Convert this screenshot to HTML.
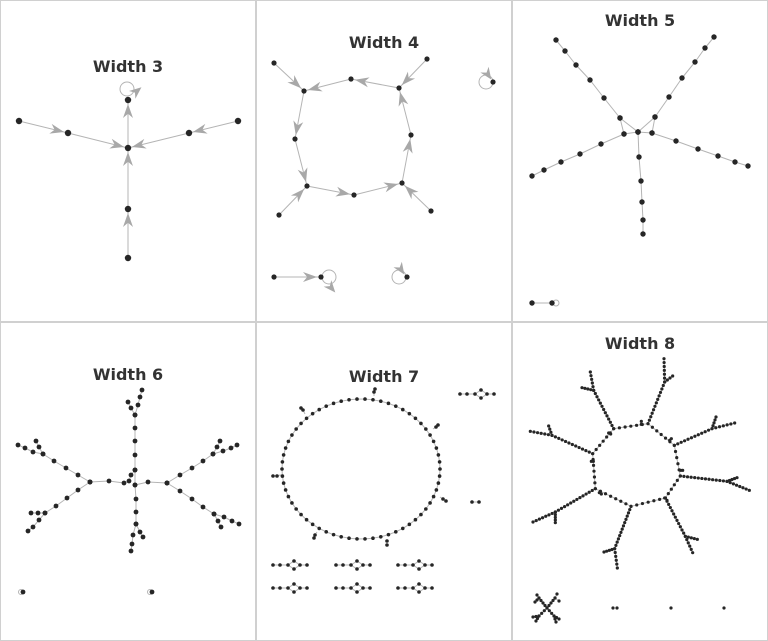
<!DOCTYPE html>
<html><head><meta charset="utf-8"><style>
html,body{margin:0;padding:0;background:#fff;}
svg{display:block;}
text{font-family:"DejaVu Sans","Liberation Sans",sans-serif;font-weight:bold;font-size:16px;fill:#333;text-anchor:middle;}
</style></head><body>
<svg id="s" width="768" height="641" viewBox="0 0 768 641" xmlns="http://www.w3.org/2000/svg">
<rect x="0.5" y="0.5" width="767" height="640" fill="#fff" stroke="#d0d0d0"/>
<line x1="256" y1="0" x2="256" y2="641" stroke="#d0d0d0" stroke-width="2"/>
<line x1="512" y1="0" x2="512" y2="641" stroke="#d0d0d0" stroke-width="2"/>
<line x1="0" y1="322" x2="768" y2="322" stroke="#d0d0d0" stroke-width="2"/>
<text x="128" y="72">Width 3</text>
<text x="384" y="48">Width 4</text>
<text x="640" y="26">Width 5</text>
<text x="128" y="380">Width 6</text>
<text x="384" y="382">Width 7</text>
<text x="640" y="349">Width 8</text>
<g id="e" stroke="#b4b4b4" stroke-width="1" fill="none"></g>
<g id="a" fill="#a8a8a8"></g>
<g id="n" fill="#262626"></g>
</svg>
<script>
var NS="http://www.w3.org/2000/svg";
var E=document.getElementById('e'),A=document.getElementById('a'),N=document.getElementById('n');
function el(p,t,at){var x=document.createElementNS(NS,t);for(var k in at)x.setAttribute(k,at[k]);p.appendChild(x);return x;}
function dot(x,y,r){el(N,'circle',{cx:x,cy:y,r:r});}
function ln(x1,y1,x2,y2){el(E,'line',{x1:x1,y1:y1,x2:x2,y2:y2});}
function arr(x1,y1,x2,y2,off,L,W){off=off||4;L=L||14;W=W||5;var dx=x2-x1,dy=y2-y1,d=Math.hypot(dx,dy);dx/=d;dy/=d;
var tx=x2-dx*off,ty=y2-dy*off,bx=tx-dx*L,by=ty-dy*L,mx=tx-dx*L*0.7,my=ty-dy*L*0.7;
el(A,'polygon',{points:tx+','+ty+' '+(bx-dy*W)+','+(by+dx*W)+' '+mx+','+my+' '+(bx+dy*W)+','+(by-dx*W)});}
function ae(a,b,r,off){ln(a[0],a[1],b[0],b[1]);arr(a[0],a[1],b[0],b[1],off);}
// Panel 3
var P={t:[128,100],c:[128,148],l:[68,133],ll:[19,121],r:[189,133],rr:[238,121],b1:[128,209],b2:[128,258]};
ae(P.ll,P.l);ae(P.l,P.c);ae(P.rr,P.r);ae(P.r,P.c);ae(P.b2,P.b1);ae(P.b1,P.c);ae(P.c,P.t);
el(E,'circle',{cx:127,cy:89,r:7});arr(126,100,143,86,2,12,5);
for(var k in P)dot(P[k][0],P[k][1],3.2);
// Panel 4
var Q=[[274,63],[304,91],[351,79],[399,88],[427,59],[295,139],[411,135],[307,186],[354,195],[402,183],[279,215],[431,211]];
[[0,1],[2,1],[3,2],[4,3],[1,5],[5,7],[10,7],[7,8],[8,9],[11,9],[9,6],[6,3]].forEach(function(p){ae(Q[p[0]],Q[p[1]]);});
Q.forEach(function(p){dot(p[0],p[1],2.6);});
el(E,'circle',{cx:486,cy:82,r:7});arr(482,66,493,82,3,12,5);dot(493,82,2.6);
ae([274,277],[321,277]);dot(274,277,2.6);dot(321,277,2.6);el(E,'circle',{cx:329,cy:277,r:7});arr(322,277,334,291,-2,12,5);
el(E,'circle',{cx:399,cy:277,r:7});arr(396,262,406,277,3,12,5);dot(407,277,2.6);
// Panel 5
function chain(pts,r){for(var i=0;i<pts.length-1;i++)ln(pts[i][0],pts[i][1],pts[i+1][0],pts[i+1][1]);pts.forEach(function(p){dot(p[0],p[1],r);});}
var r5=2.7;
chain([[556,40],[565,51],[576,65],[590,80],[604,98],[620,118],[638,132]],r5);
chain([[714,37],[705,48],[695,62],[682,78],[669,97],[655,117],[638,132]],r5);
chain([[620,118],[624,134],[638,132],[652,133],[655,117]],r5);
chain([[532,176],[544,170],[561,162],[580,154],[601,144],[624,134]],r5);
chain([[748,166],[735,162],[718,156],[698,149],[676,141],[652,133]],r5);
chain([[638,132],[639,157],[641,181],[642,202],[643,220],[643,234]],r5);
chain([[532,303],[552,303]],r5);el(E,'circle',{cx:556,cy:303,r:3});
// Panel 6
var r6=2.4;
chain([[142,390],[140,397],[138,405],[135,415],[135,428],[135,441],[135,455],[135,470],[131,475],[129,481],[124,483],[109,481],[90,482]],r6);
chain([[128,402],[131,408],[135,415]],r6);
chain([[135,470],[135,485],[148,482],[167,483]],r6);
chain([[135,485],[136,499],[136,512],[136,524],[133,535],[132,544],[131,551]],r6);
chain([[136,524],[140,532],[143,537]],r6);
chain([[90,482],[78,475],[66,468],[54,461],[43,454],[33,452],[25,448],[18,445]],r6);
chain([[43,454],[39,447],[36,441]],r6);
chain([[90,482],[78,490],[67,498],[56,506],[45,513],[38,513],[31,513]],r6);
chain([[45,513],[39,520],[33,527],[28,531]],r6);
chain([[167,483],[180,475],[192,468],[203,461],[213,454],[223,451],[231,448],[237,445]],r6);
chain([[213,454],[217,447],[220,441]],r6);
chain([[167,483],[180,491],[192,499],[203,507],[214,514],[224,517],[232,521],[239,524]],r6);
chain([[214,514],[218,521],[221,527]],r6);
el(E,'circle',{cx:21,cy:592,r:2.5});dot(23,592,r6);el(E,'circle',{cx:150,cy:592,r:2.5});dot(152,592,r6);
// sampling helper
function samp(pts,s,r){for(var i=0;i<pts.length-1;i++){var a=pts[i],b=pts[i+1];ln(a[0],a[1],b[0],b[1]);var d=Math.hypot(b[0]-a[0],b[1]-a[1]),n=Math.max(1,Math.round(d/s));for(var j=0;j<n;j++)dot(a[0]+(b[0]-a[0])*j/n,a[1]+(b[1]-a[1])*j/n,r);}var l=pts[pts.length-1];dot(l[0],l[1],r);}
// Panel 7
var r7=1.8,cx=361,cy=469,rx=79,ry=70,m=62,pe=[];
for(var i=0;i<=m;i++){var t=2*Math.PI*i/m;pe.push([cx+rx*Math.cos(t),cy+ry*Math.sin(t)]);}
for(var i=0;i<m;i++)ln(pe[i][0],pe[i][1],pe[i+1][0],pe[i+1][1]);
for(var i=0;i<m;i++)dot(pe[i][0],pe[i][1],r7);
[[374,392,375,389,374,396],[303,410,301,408,305,414],[436,427,438,425,433,429],[273,476,277,476,281,475],[443,499,446,501,440,497],[315,535,314,538,317,532],[387,545,387,541,388,544]].forEach(function(q){ln(q[0],q[1],q[4],q[5]);dot(q[0],q[1],r7);dot(q[2],q[3],r7);});
function small(x0,y){ln(x0,y,x0+15,y);ln(x0+27,y,x0+34,y);el(E,'polygon',{points:(x0+15)+','+y+' '+(x0+21)+','+(y-4)+' '+(x0+27)+','+y+' '+(x0+21)+','+(y+4)});
[[0,0],[7,0],[15,0],[21,-4],[21,4],[27,0],[34,0]].forEach(function(p){dot(x0+p[0],y+p[1],r7);});}
small(273,565);small(336,565);small(398,565);small(273,588);small(336,588);small(398,588);small(460,394);
dot(472,502,r7);dot(479,502,r7);ln(472,502,479,502);
// Panel 8
function Z(x,y){return [512+x/3,322+y/3];}
var r8=1.6,s8=3.6;
var oct=[Z(305,320),Z(408,305),Z(487,370),Z(505,462),Z(460,528),Z(357,553),Z(250,500),Z(242,395)];
samp(oct.concat([oct[0]]),s8*1.6,r8);
var arms=[[Z(305,320),Z(245,205),Z(235,150),Z(210,197)],[Z(408,305),Z(458,180),Z(456,110),Z(482,162)],[Z(487,370),Z(600,320),Z(668,303),Z(612,285)],[Z(505,462),Z(645,478),Z(712,505),Z(675,467)],[Z(460,528),Z(520,643),Z(542,692),Z(556,652)],[Z(357,553),Z(308,680),Z(316,738),Z(276,690)],[Z(250,500),Z(130,570),Z(63,600),Z(130,602)],[Z(242,395),Z(120,340),Z(55,328),Z(110,312)]];
arms.forEach(function(a){samp([a[0],a[1],a[2]],s8,r8);samp([a[1],a[3]],s8*0.8,r8);});
[[Z(290,333),Z(296,336)],[Z(388,298),Z(388,307)],[Z(473,355),Z(478,350)],[Z(506,445),Z(512,445)],[Z(458,528),Z(465,535)],[Z(262,512),Z(268,516)],[Z(238,418),Z(244,418)]].forEach(function(p){dot(p[0][0],p[0][1],r8);dot(p[1][0],p[1][1],r8);});
var sc=[547,608];
[[[-8,-10],[-12,-6],[-10,-13]],[[8,-10],[12,-7],[10,-14]],[[-8,8],[-14,9],[-11,13]],[[7,8],[12,11],[9,14]]].forEach(function(b){samp([sc,[sc[0]+b[0][0],sc[1]+b[0][1]],[sc[0]+b[1][0],sc[1]+b[1][1]]],3.5,r8);samp([[sc[0]+b[0][0],sc[1]+b[0][1]],[sc[0]+b[2][0],sc[1]+b[2][1]]],3.5,r8);});
dot(613,608,r8);dot(617,608,r8);dot(671,608,r8);dot(724,608,r8);
</script>
</body></html>
